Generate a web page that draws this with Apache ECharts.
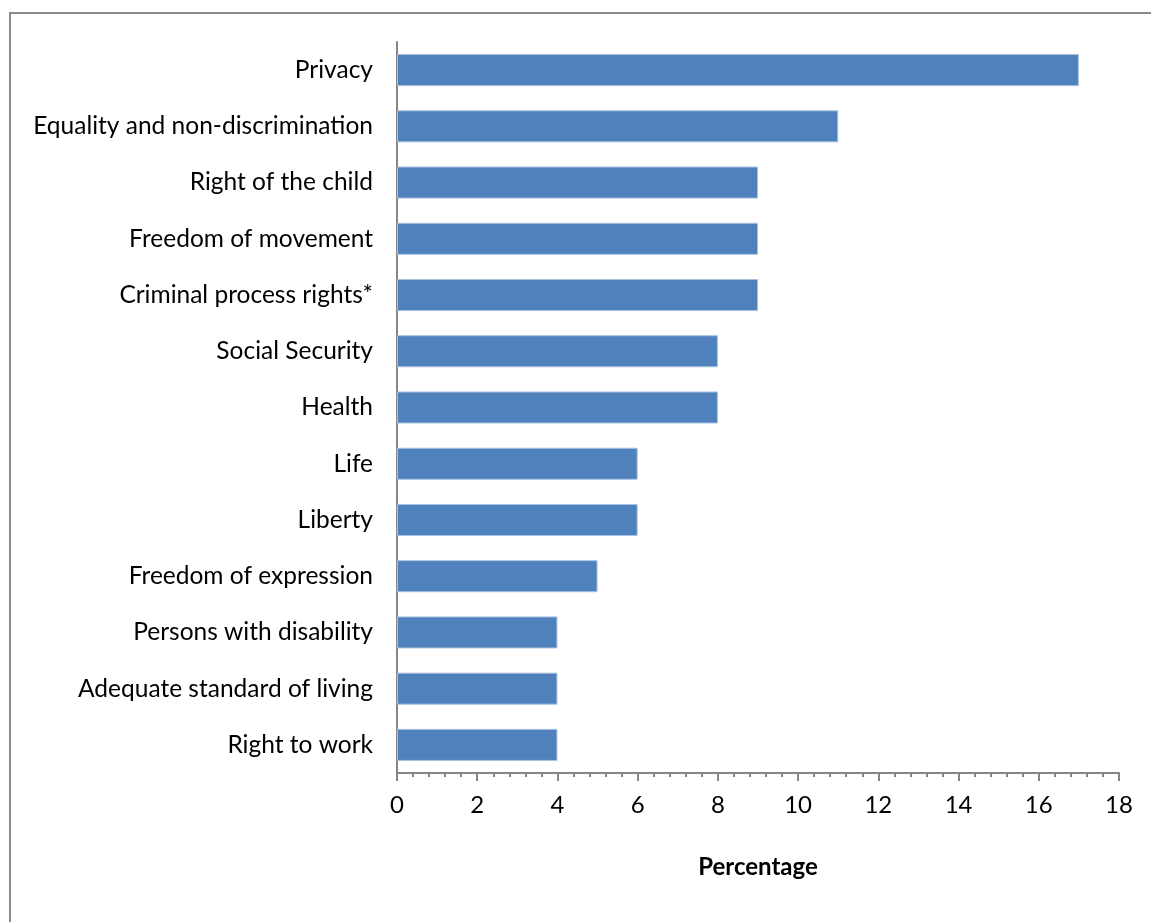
<!DOCTYPE html>
<html>
<head>
<meta charset="utf-8">
<script src="https://cdn.jsdelivr.net/npm/echarts@6/dist/echarts.min.js"></script>
<style>
html,body{margin:0;padding:0;background:#fff;}
#c{width:1151px;height:922px;}
</style>
</head>
<body>
<div id="c"></div>
<script>
const categories = [
  "Privacy",
  "Equality and non-discrimination",
  "Right of the child",
  "Freedom of movement",
  "Criminal process rights*",
  "Social Security",
  "Health",
  "Life",
  "Liberty",
  "Freedom of expression",
  "Persons with disability",
  "Adequate standard of living",
  "Right to work"
];
const values = [17, 11, 9, 9, 9, 8, 8, 6, 6, 5, 4, 4, 4];
const xTicks = { min: 0, max: 18, interval: 2 };
const xName = "Percentage";

const chart = echarts.init(document.getElementById('c'), null, {renderer: 'canvas'});
const font = 'Lato, "Open Sans", sans-serif';
chart.setOption({
  animation: false,
  backgroundColor: '#ffffff',
  graphic: [{
    type: 'rect',
    shape: {x: 10, y: 13, width: 1300, height: 1000},
    style: {fill: 'none', stroke: '#8a8a8a', lineWidth: 2},
    silent: true, z: -1
  }],
  grid: {left: 397, right: 32, top: 42, bottom: 149, containLabel: false},
  xAxis: {
    type: 'value',
    min: xTicks.min, max: xTicks.max, interval: xTicks.interval,
    name: xName,
    nameLocation: 'middle',
    nameGap: 82,
    nameTextStyle: {fontFamily: font, fontSize: 24, fontWeight: 'bold', color: '#000'},
    axisLine: {show: true, lineStyle: {color: '#868686', width: 2}},
    axisTick: {show: true, length: 8, lineStyle: {color: '#868686', width: 2}},
    minorTick: {show: true, splitNumber: 5, length: 4, lineStyle: {color: '#868686', width: 2}},
    splitLine: {show: false},
    minorSplitLine: {show: false},
    axisLabel: {fontFamily: font, fontSize: 24, color: '#000', margin: 20}
  },
  yAxis: {
    type: 'category',
    data: categories,
    inverse: true,
    axisLine: {show: true, lineStyle: {color: '#868686', width: 2}},
    axisTick: {show: false},
    splitLine: {show: false},
    axisLabel: {fontFamily: font, fontSize: 24.5, color: '#000', margin: 24}
  },
  series: [{
    type: 'bar',
    data: values,
    barWidth: '57%',
    itemStyle: {color: '#4F81BD', borderColor: '#A9C1E0', borderWidth: 1}
  }]
});
</script>
</body>
</html>
